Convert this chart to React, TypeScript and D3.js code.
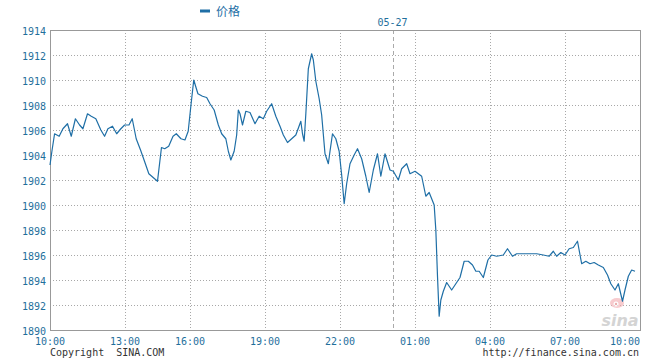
import React from "react";
import * as d3 from "d3";

const times: string[] = [
  "10:00","10:05","10:11","10:22","10:31","10:42","10:51","11:01","11:11","11:19",
  "11:30","11:39","11:50","12:02","12:11","12:19","12:30","12:40","12:50","12:59",
  "13:11","13:20","13:31","13:43","13:54","14:06","14:18","14:30","14:41","14:50",
  "15:01","15:13","15:22","15:35","15:46","15:55","16:02","16:09","16:19","16:30",
  "16:40","16:48","16:58","17:08","17:16","17:26","17:32","17:38","17:46","17:52",
  "17:56","18:00","18:06","18:14","18:24","18:36","18:46","18:56","19:04","19:16",
  "19:26","19:36","19:44","19:54","20:04","20:14","20:26","20:30","20:34","20:38",
  "20:44","20:52","20:56","21:02","21:10","21:16","21:24","21:32","21:36","21:42",
  "21:50","21:58","22:04","22:10","22:16","22:24","22:34","22:42","22:52","23:02",
  "23:10","23:20","23:30","23:38","23:48","00:00","00:08","00:20","00:28","00:40",
  "00:48","01:00","01:16","01:26","01:34","01:46","01:50","01:54","01:58","02:02",
  "02:08","02:16","02:28","02:40","02:48","02:58","03:08","03:18","03:26","03:34",
  "03:44","03:55","04:04","04:16","04:32","04:42","04:54","05:04","05:24","05:52",
  "06:08","06:22","06:32","06:40","06:50","07:00","07:10","07:20","07:30","07:40",
  "07:50","08:00","08:10","08:20","08:32","08:42","08:50","09:00","09:08","09:18",
  "09:24","09:32","09:40","09:48"
];

const prices: number[] = [
  1903.2,1904.4,1905.7,1905.5,1906.1,1906.5,1905.5,1906.9,1906.4,1906.1,
  1907.3,1907.1,1906.9,1906.0,1905.5,1906.1,1906.3,1905.7,1906.1,1906.4,
  1906.4,1906.9,1905.3,1904.4,1903.5,1902.5,1902.2,1901.9,1904.6,1904.5,
  1904.7,1905.5,1905.7,1905.3,1905.2,1905.9,1907.9,1910.0,1908.9,1908.7,
  1908.6,1908.1,1907.6,1906.4,1905.7,1905.3,1904.3,1903.6,1904.3,1905.6,
  1907.6,1907.3,1906.4,1907.5,1907.4,1906.5,1907.1,1906.9,1907.5,1908.1,
  1907.1,1906.3,1905.6,1905.0,1905.3,1905.6,1906.7,1905.7,1905.1,1907.3,
  1910.9,1912.1,1911.6,1909.9,1908.5,1907.2,1904.1,1903.3,1904.3,1905.7,
  1905.3,1904.3,1902.4,1900.1,1901.7,1903.3,1904.0,1904.5,1903.7,1902.3,
  1901.0,1902.8,1904.1,1902.3,1904.1,1902.8,1902.7,1902.0,1902.9,1903.3,
  1902.5,1902.7,1902.3,1900.7,1901.0,1900.0,1898.0,1894.3,1891.1,1892.4,
  1893.1,1893.8,1893.2,1893.8,1894.2,1895.5,1895.5,1895.2,1894.7,1894.7,
  1894.2,1895.6,1896.0,1895.9,1896.0,1896.5,1895.9,1896.1,1896.1,1896.1,
  1896.0,1895.9,1896.3,1895.9,1896.2,1896.0,1896.5,1896.6,1897.1,1895.3,
  1895.5,1895.3,1895.4,1895.2,1895.0,1894.4,1893.7,1893.2,1893.7,1892.3,
  1893.2,1894.3,1894.8,1894.7
];

const xTickLabels: string[] = ["10:00","13:00","16:00","19:00","22:00","01:00","04:00","07:00","10:00"];
const yTicks: number[] = [1890,1892,1894,1896,1898,1900,1902,1904,1906,1908,1910,1912,1914];
const dateLabel = "05-27";
const dateBoundary = "00:07";
const seriesName = "价格";

const W = 660, H = 360;
const L = 50, R = 640, T = 30, B = 330;
const BLUE = "#1f6fa6";
const LABEL = "#1f6f9c";
const MONO = "'DejaVu Sans Mono', 'Liberation Mono', monospace";

function toMin(t: string): number {
  const [h, m] = t.split(":").map(Number);
  return ((h * 60 + m - 600) % 1440 + 1440) % 1440;
}

export default function App() {
  const tickMins = xTickLabels.map((t, i) => (i === xTickLabels.length - 1 ? 1440 : toMin(t)));
  // sessions are drawn with uneven spacing in the original
  const x = d3.scaleLinear()
    .domain(tickMins)
    .range([L, 125, 190, 265, 340, 415, 490, 565, R]);
  const y = d3.scaleLinear().domain([1890, 1914]).range([B, T]);

  const data = times.map((t, i) => ({ m: toMin(t), v: prices[i] }));
  const line = d3.line<{ m: number; v: number }>()
    .x(d => x(d.m))
    .y(d => y(d.v));

  const xb = Math.round(x(toMin(dateBoundary))) + 0.5;

  return (
    <svg width={W} height={H} style={{ position: "absolute", left: 0, top: 0, background: "#fff" }}>
      {/* horizontal gridlines */}
      {yTicks.filter(v => v !== 1914 && v !== 1890).map(v => (
        <line key={"h" + v} x1={L} x2={R} y1={Math.round(y(v)) + 0.5} y2={Math.round(y(v)) + 0.5}
          stroke="#a8a8a8" strokeWidth={1} strokeDasharray="1,2" />
      ))}
      {/* vertical gridlines */}
      {tickMins.slice(1, -1).map((m, i) => (
        <line key={"v" + i} x1={Math.round(x(m)) + 0.5} x2={Math.round(x(m)) + 0.5} y1={T} y2={B}
          stroke="#a8a8a8" strokeWidth={1} strokeDasharray="1,2" />
      ))}
      {/* date boundary */}
      <line x1={xb} x2={xb} y1={T} y2={B} stroke="#aaaaaa" strokeWidth={1} strokeDasharray="4,3" />
      <text x={xb - 1} y={26} textAnchor="middle" fontFamily={MONO} fontSize={10} fill={LABEL}>{dateLabel}</text>

      {/* frame */}
      <rect x={L + 0.5} y={T + 0.5} width={R - L} height={B - T} fill="none" stroke="#999" strokeWidth={1} />

      {/* watermark */}
      <g opacity={0.6}>
        <ellipse cx={617} cy={303} rx={7} ry={5} fill="#f3a9ae" />
        <circle cx={616} cy={304} r={2.5} fill="#fff" />
        <circle cx={616} cy={304} r={1.2} fill="#d77" />
        <text x={620} y={326} textAnchor="middle" fontFamily="'DejaVu Sans', sans-serif" fontStyle="italic"
          fontWeight="bold" fontSize={16} fill="#b8b8b8">sina</text>
      </g>

      {/* price line */}
      <path d={line(data) || ""} fill="none" stroke={BLUE} strokeWidth={1.2} strokeLinejoin="round" />

      {/* y labels */}
      {yTicks.map(v => (
        <text key={"yl" + v} x={46} y={y(v) + 5} textAnchor="end" fontFamily={MONO} fontSize={10} fill={LABEL}>{v}</text>
      ))}
      {/* x labels */}
      {xTickLabels.map((t, i) => (
        <text key={"xl" + i} x={i === xTickLabels.length - 1 ? R : x(tickMins[i])} y={345}
          textAnchor={i === xTickLabels.length - 1 ? "end" : "middle"} fontFamily={MONO} fontSize={10} fill={LABEL}>{t}</text>
      ))}

      {/* legend */}
      <rect x={200} y={9.5} width={10} height={3} fill={BLUE} />
      <text x={216} y={16} fontFamily="'Noto Sans CJK SC', sans-serif" fontSize={12} fill={BLUE}>{seriesName}</text>

      {/* footer */}
      <text x={50} y={356} fontFamily={MONO} fontSize={10} fill="#333" style={{ whiteSpace: "pre" }}>{"Copyright  SINA.COM"}</text>
      <text x={639} y={356} textAnchor="end" fontFamily={MONO} fontSize={10} fill="#333">http://finance.sina.com.cn</text>
    </svg>
  );
}
